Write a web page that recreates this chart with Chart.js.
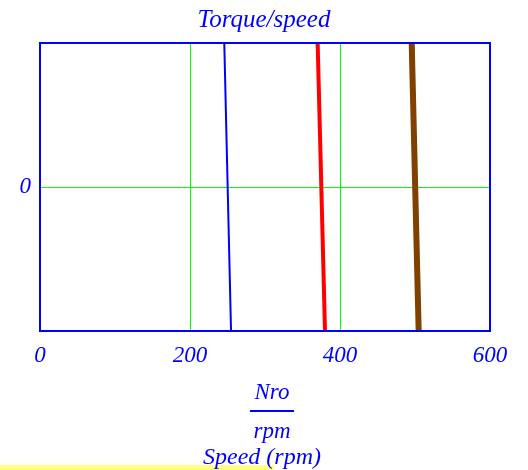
<!DOCTYPE html>
<html>
<head>
<meta charset="utf-8">
<script src="https://cdn.jsdelivr.net/npm/chart.js@4"></script>
<style>
  body { margin: 0; background: #ffffff; }
  #wrap { width: 528px; height: 470px; }
</style>
</head>
<body>
<div id="wrap"><canvas id="chart" width="528" height="470"></canvas></div>
<script>
// torque axis end points (torque is unitless here, only 0 is labelled)
const torque = [1, -1];
// speed (rpm) at each end of the three torque/speed lines
const speedBlue = [245.7, 254.7];
const speedRed = [370.2, 380.0];
const speedBrown = [495.6, 504.9];
// axis ticks
const xTicks = [0, 200, 400, 600];
const yTicks = [0];

const blue = "#0000ff";
const serif = "'Liberation Serif', 'DejaVu Serif', serif";

//turn two arrays into scatter points
const toPoints = (xs, ys) => xs.map((x, i) => ({ x: x, y: ys[i] }));

//frame, axis caption and the yellow strip
const extras = {
  id: "extras",
  beforeDraw(chart) {
    const ctx = chart.ctx;
    ctx.save();
    ctx.fillStyle = "#ffff80";
    ctx.fillRect(0, 465, 274, 5);
    ctx.restore();
  },
  afterDraw(chart) {
    const ctx = chart.ctx;
    const a = chart.chartArea;
    ctx.save();
    ctx.strokeStyle = blue;
    ctx.lineWidth = 2;
    ctx.strokeRect(a.left, a.top, a.right - a.left, a.bottom - a.top);
    //x axis caption: Nro / rpm then Speed (rpm)
    const cx = 272;
    ctx.fillStyle = blue;
    ctx.textAlign = "center";
    ctx.textBaseline = "middle";
    ctx.font = "italic 23px " + serif;
    ctx.fillText("Nro", cx, 393);
    ctx.fillText("rpm", cx, 432);
    ctx.font = "italic 24px " + serif;
    ctx.fillText("Speed (rpm)", 262, 458);
    ctx.lineWidth = 2;
    ctx.beginPath();
    ctx.moveTo(cx - 22, 411);
    ctx.lineTo(cx + 22, 411);
    ctx.stroke();
    ctx.restore();
  },
};

const lineSet = (label, xs, color, width) => ({
  label: label,
  data: toPoints(xs, torque),
  borderColor: color,
  backgroundColor: color,
  borderWidth: width,
  showLine: true,
  pointRadius: 0,
});

let myChart = new Chart(document.getElementById("chart"), {
  type: "scatter",
  plugins: [extras],
  data: {
    datasets: [
      lineSet("blue", speedBlue, "#0000ff", 2),
      lineSet("red", speedRed, "#ff0000", 4),
      lineSet("brown", speedBrown, "#804000", 6),
    ],
  },
  options: {
    responsive: false,
    animation: false,
    layout: { padding: 0 },
    plugins: {
      legend: { display: false },
      tooltip: { enabled: false },
      title: {
        display: true,
        text: "Torque/speed",
        color: blue,
        font: { family: serif, size: 25, style: "italic", weight: "normal", lineHeight: 1.2 },
        padding: { top: 5, bottom: 8 },
      },
    },
    scales: {
      x: {
        type: "linear",
        min: 0,
        max: 600,
        afterBuildTicks: (scale) => {
          scale.ticks = xTicks.map((v) => ({ value: v }));
        },
        afterFit: (scale) => {
          scale.height = 139;
        },
        grid: { color: "#00ff00", lineWidth: 1, drawTicks: false },
        border: { display: false },
        ticks: {
          color: blue,
          padding: 11,
          maxRotation: 0,
          font: { family: serif, size: 23, style: "italic" },
        },
      },
      y: {
        type: "linear",
        min: -1,
        max: 1,
        afterBuildTicks: (scale) => {
          scale.ticks = yTicks.map((v) => ({ value: v }));
        },
        afterFit: (scale) => {
          scale.width = 40;
        },
        grid: { color: "#00ff00", lineWidth: 1, drawTicks: false },
        border: { display: false },
        ticks: {
          color: blue,
          padding: 9,
          font: { family: serif, size: 23, style: "italic" },
        },
      },
      //empty right axis that only keeps room on the right side
      yRight: {
        type: "linear",
        position: "right",
        min: -1,
        max: 1,
        afterFit: (scale) => {
          scale.width = 38;
        },
        grid: { display: false },
        border: { display: false },
        ticks: { display: false },
      },
    },
  },
});
</script>
</body>
</html>
